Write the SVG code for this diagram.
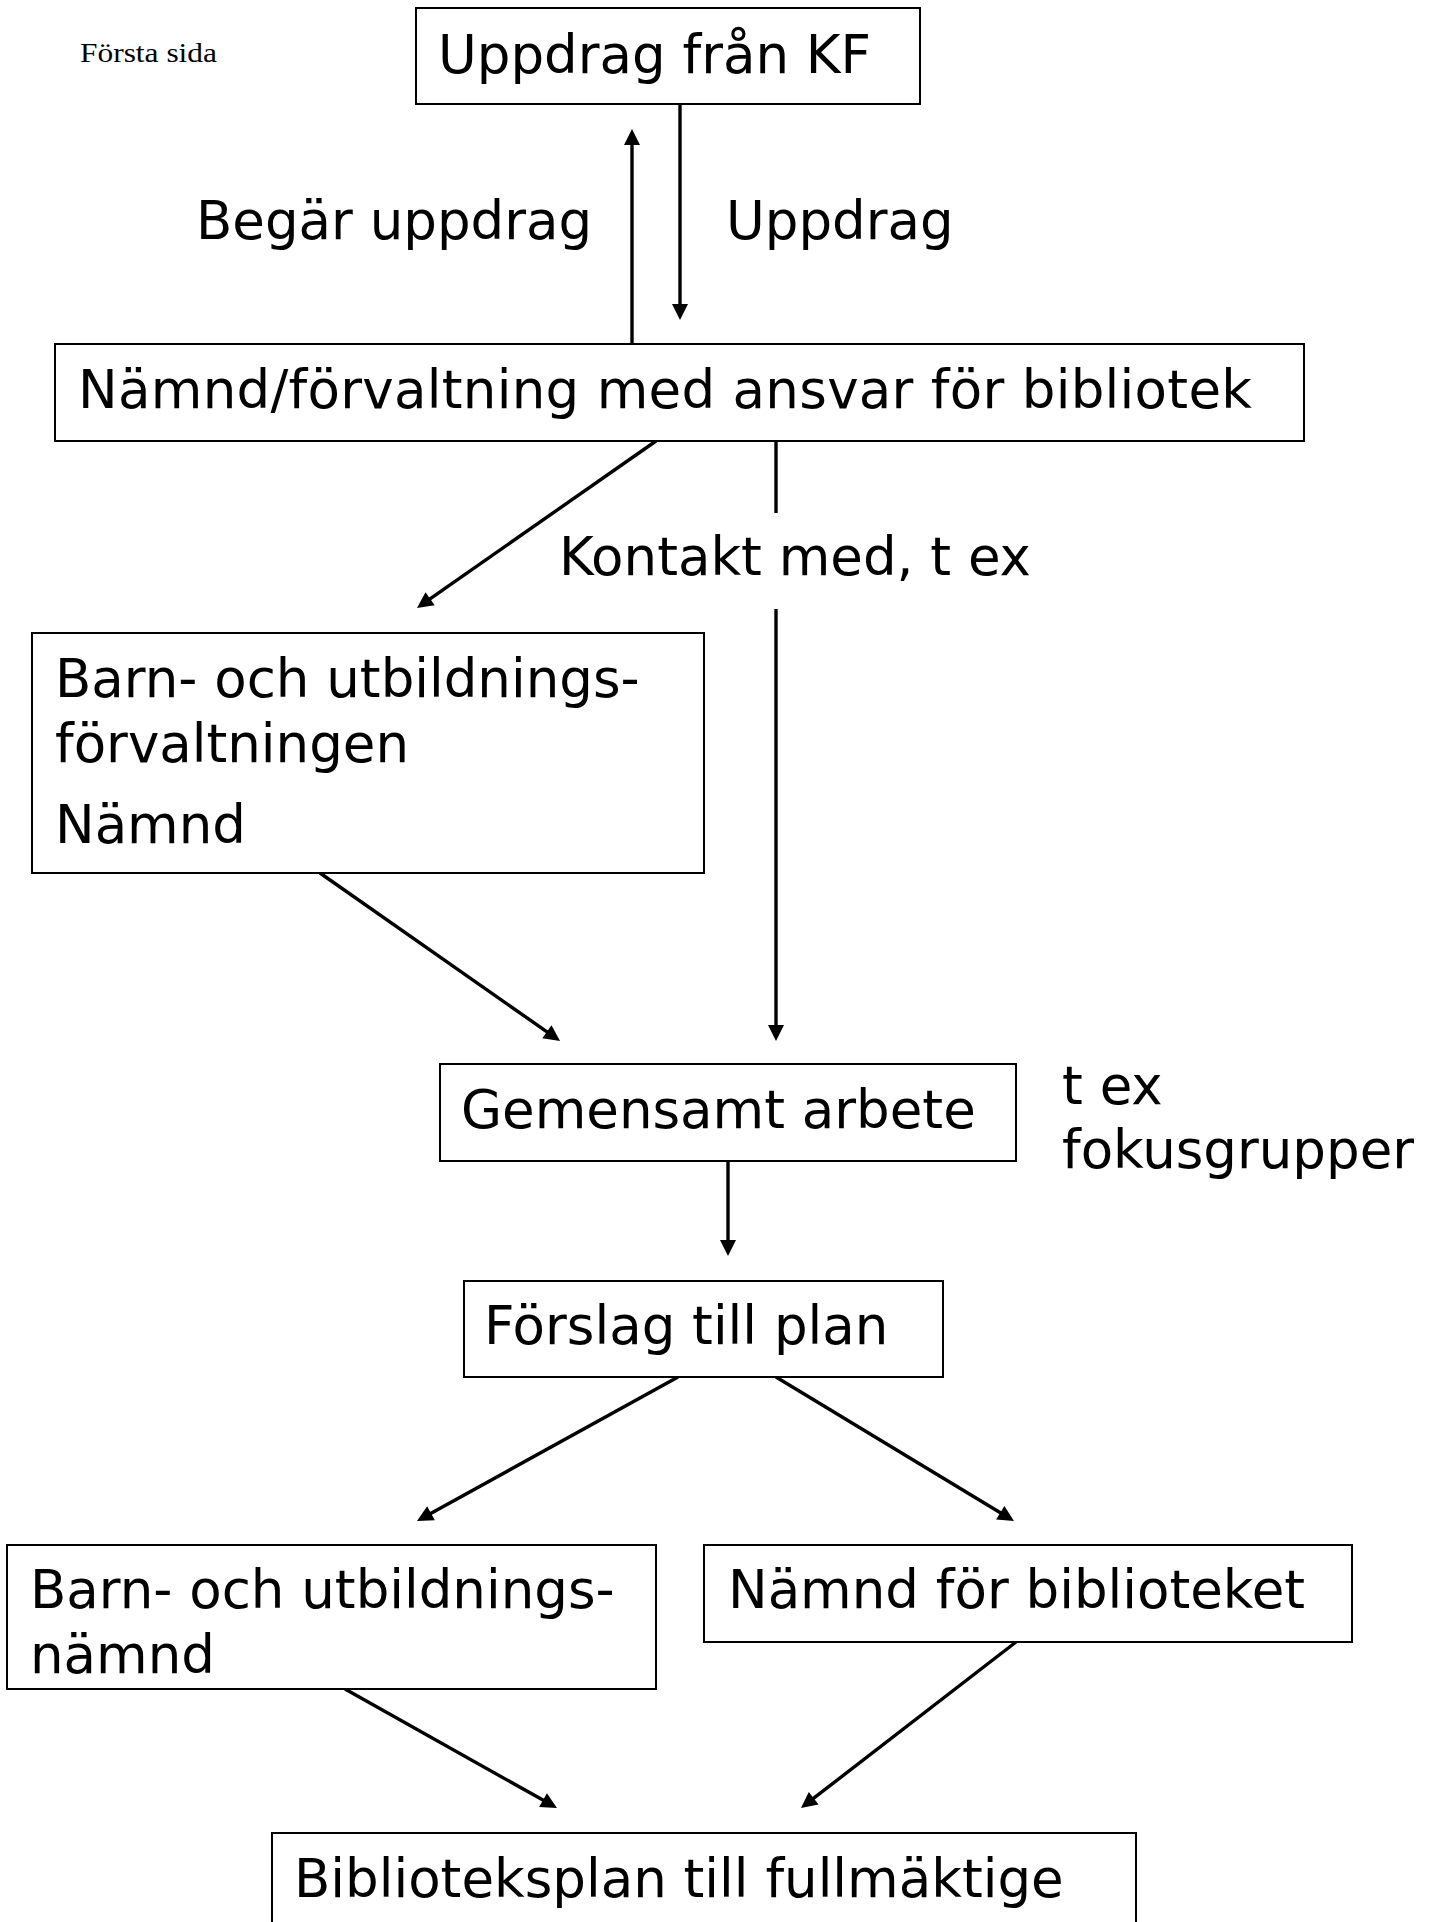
<svg xmlns="http://www.w3.org/2000/svg" width="1432" height="1922" viewBox="0 0 1432 1922">
<style>
.box{fill:#fff;stroke:#000;stroke-width:2}
.t{font-family:"DejaVu Sans",Verdana,sans-serif;font-size:53px;fill:#000}
.c{stroke:#000;stroke-width:3.4;fill:none}
.small{font-family:"Liberation Serif","Times New Roman",serif;font-size:28px;fill:#000}
</style>
<defs>
<marker id="ah" markerUnits="userSpaceOnUse" markerWidth="16" markerHeight="16" refX="4" refY="8" orient="auto" overflow="visible">
<path d="M0,0 L16,8 L0,16 z" fill="#000"/>
</marker>
</defs>
<rect width="1432" height="1922" fill="#fff"/>
<text class="small" x="80" y="62" textLength="137" lengthAdjust="spacingAndGlyphs">Första sida</text>

<g id="connectors">
<line class="c" x1="632" y1="345" x2="632" y2="141" marker-end="url(#ah)"/>
<line class="c" x1="680" y1="104" x2="680" y2="308" marker-end="url(#ah)"/>
<line class="c" x1="656" y1="441" x2="426.8" y2="601.1" marker-end="url(#ah)"/>
<line class="c" x1="776" y1="441" x2="776" y2="513"/>
<line class="c" x1="776" y1="609" x2="776" y2="1029" marker-end="url(#ah)"/>
<line class="c" x1="320" y1="873" x2="550.2" y2="1034.1" marker-end="url(#ah)"/>
<line class="c" x1="728" y1="1161" x2="728" y2="1244" marker-end="url(#ah)"/>
<line class="c" x1="678" y1="1377" x2="427.5" y2="1515.2" marker-end="url(#ah)"/>
<line class="c" x1="776" y1="1377" x2="1003.7" y2="1514.8" marker-end="url(#ah)"/>
<line class="c" x1="345" y1="1689" x2="546.5" y2="1802.1" marker-end="url(#ah)"/>
<line class="c" x1="1016" y1="1642" x2="810.5" y2="1800.7" marker-end="url(#ah)"/>
<text class="t" x="196" y="239">Begär uppdrag</text>
<text class="t" x="726" y="239">Uppdrag</text>
<text class="t" x="559" y="575">Kontakt med, t ex</text>
<text class="t" x="1062" y="1104">t ex</text>
<text class="t" x="1062" y="1168">fokusgrupper</text>
</g>

<g id="n1">
<rect class="box" x="416" y="8" width="504" height="96"/>
<text class="t" x="438" y="73">Uppdrag från KF</text>
</g>
<g id="n2">
<rect class="box" x="55" y="344" width="1249" height="97"/>
<text class="t" x="78" y="408" textLength="1174" lengthAdjust="spacing">Nämnd/förvaltning med ansvar för bibliotek</text>
</g>
<g id="n3">
<rect class="box" x="32" y="633" width="672" height="240"/>
<text class="t" x="55" y="697">Barn- och utbildnings-</text>
<text class="t" x="55" y="762">förvaltningen</text>
<text class="t" x="55" y="843">Nämnd</text>
</g>
<g id="n4">
<rect class="box" x="440" y="1064" width="576" height="97"/>
<text class="t" x="461" y="1128">Gemensamt arbete</text>
</g>
<g id="n5">
<rect class="box" x="464" y="1281" width="479" height="96"/>
<text class="t" x="484" y="1344">Förslag till plan</text>
</g>
<g id="n6">
<rect class="box" x="7" y="1545" width="649" height="144"/>
<text class="t" x="30" y="1608">Barn- och utbildnings-</text>
<text class="t" x="30" y="1673">nämnd</text>
</g>
<g id="n7">
<rect class="box" x="704" y="1545" width="648" height="97"/>
<text class="t" x="728" y="1608">Nämnd för biblioteket</text>
</g>
<g id="n8">
<rect class="box" x="272" y="1833" width="864" height="110"/>
<text class="t" x="294" y="1897">Biblioteksplan till fullmäktige</text>
</g>
</svg>
